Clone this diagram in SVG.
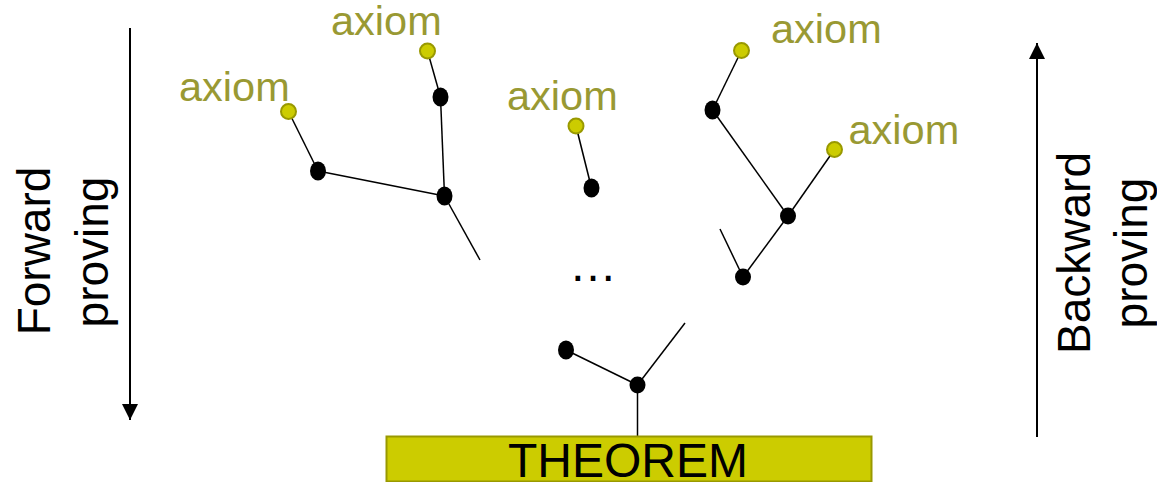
<svg xmlns="http://www.w3.org/2000/svg" width="1157" height="482" viewBox="0 0 1157 482">
<defs>
<style>
.ax{fill:#CCCC00;stroke:#999900;stroke-width:2}
.nd{fill:#000}
.lbl{font-family:"Liberation Sans",Arial,sans-serif;font-size:41.5px;fill:#999933}
.side{font-family:"Liberation Sans",Arial,sans-serif;font-size:46px;fill:#000}
.ln{stroke:#000;stroke-width:1.5;fill:none}
</style>
<marker id="ah" viewBox="0 0 16 17" refX="16" refY="8" markerWidth="16" markerHeight="17" markerUnits="userSpaceOnUse" orient="auto">
<path d="M0,0 L16,8 L0,16 Z" fill="#000"/>
</marker>
</defs>
<rect width="1157" height="482" fill="#fff"/>
<g id="connectors">
<line class="ln" x1="288.5" y1="111.5" x2="318" y2="171"/>
<line class="ln" x1="427.5" y1="51" x2="440.5" y2="97"/>
<line class="ln" x1="318" y1="171" x2="444.5" y2="196"/>
<line class="ln" x1="440.5" y1="97" x2="444.5" y2="196"/>
<line class="ln" x1="444.5" y1="196" x2="480" y2="260"/>
<line class="ln" x1="576" y1="126" x2="591.5" y2="188"/>
<line class="ln" x1="741.5" y1="50.5" x2="712.5" y2="110"/>
<line class="ln" x1="712.5" y1="110" x2="788" y2="216"/>
<line class="ln" x1="834.5" y1="149.5" x2="788" y2="216"/>
<line class="ln" x1="788" y1="216" x2="743" y2="277"/>
<line class="ln" x1="720" y1="229" x2="743" y2="277"/>
<line class="ln" x1="566" y1="350" x2="637.5" y2="385"/>
<line class="ln" x1="637.5" y1="385" x2="685" y2="323"/>
<line class="ln" x1="637.5" y1="385" x2="637.5" y2="436"/>
<line x1="130" y1="28" x2="130" y2="420" stroke="#000" stroke-width="2" marker-end="url(#ah)"/>
<line x1="1037" y1="437" x2="1037" y2="43" stroke="#000" stroke-width="2" marker-end="url(#ah)"/>
</g>
<g id="axiom1"><circle class="ax" cx="288.5" cy="111.5" r="7.5"/><text class="lbl" x="179" y="101">axiom</text></g>
<g id="axiom2"><circle class="ax" cx="427.5" cy="51" r="7.5"/><text class="lbl" x="331" y="35">axiom</text></g>
<g id="axiom3"><circle class="ax" cx="576" cy="126" r="7.5"/><text class="lbl" x="507" y="110">axiom</text></g>
<g id="axiom4"><circle class="ax" cx="741.5" cy="50.5" r="7.5"/><text class="lbl" x="771" y="43">axiom</text></g>
<g id="axiom5"><circle class="ax" cx="834.5" cy="149.5" r="7.5"/><text class="lbl" x="848.5" y="144">axiom</text></g>
<g id="n1"><ellipse class="nd" cx="318" cy="171" rx="8" ry="9.5"/></g>
<g id="n2"><ellipse class="nd" cx="440.5" cy="97" rx="8" ry="9.5"/></g>
<g id="n3"><ellipse class="nd" cx="444.5" cy="196" rx="8" ry="9.5"/></g>
<g id="n4"><ellipse class="nd" cx="591.5" cy="188" rx="8" ry="9.5"/></g>
<g id="n5"><ellipse class="nd" cx="712.5" cy="110" rx="8" ry="9.5"/></g>
<g id="n6"><ellipse class="nd" cx="788" cy="216" rx="8" ry="8.5"/></g>
<g id="n7"><ellipse class="nd" cx="743" cy="277" rx="8" ry="8.5"/></g>
<g id="n8"><ellipse class="nd" cx="566" cy="350" rx="8" ry="9.5"/></g>
<g id="n9"><ellipse class="nd" cx="637.5" cy="385" rx="8" ry="8.5"/></g>
<g id="ellipsis"><text x="569" y="281" font-family="Liberation Sans, Arial, sans-serif" font-size="48" fill="#000">…</text></g>
<g id="theorem">
<rect x="386.5" y="436.5" width="485" height="45" fill="#CCCC00" stroke="#999900" stroke-width="2"/>
<text x="628" y="477" text-anchor="middle" font-family="Liberation Sans, Arial, sans-serif" font-size="48" fill="#000">THEOREM</text>
</g>
<g id="forward">
<text class="side" transform="translate(50,251) rotate(-90)" text-anchor="middle">Forward</text>
<text class="side" transform="translate(108,252) rotate(-90)" text-anchor="middle">proving</text>
</g>
<g id="backward">
<text class="side" transform="translate(1090,253) rotate(-90)" text-anchor="middle">Backward</text>
<text class="side" transform="translate(1147,253) rotate(-90)" text-anchor="middle">proving</text>
</g>
</svg>
